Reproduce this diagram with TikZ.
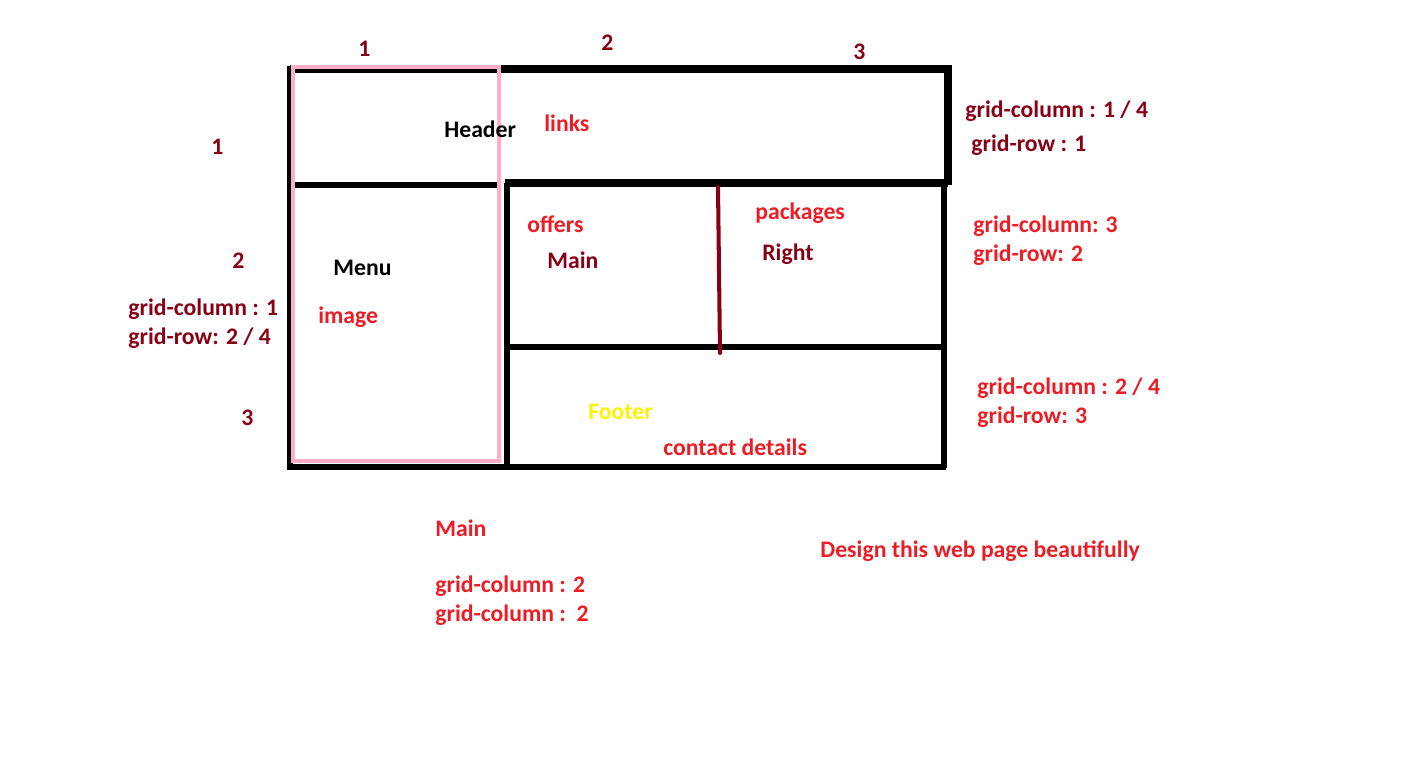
\documentclass[tikz,border=0pt]{standalone}
\usepackage{fontspec}
\setmainfont{Carlito}
\definecolor{darkRed}{RGB}{136, 0, 21}
\definecolor{paintRed}{RGB}{237, 28, 36}
\definecolor{paintPink}{RGB}{255, 174, 201}
\definecolor{paintYellow}{RGB}{255, 242, 0}
\usetikzlibrary{
    positioning
}
\begin{document}
\begin{tikzpicture}[
        x=0.02cm, y=-0.02cm,
        label/.style={anchor=west, inner sep=0pt, font=\fontsize{13.5}{15}\selectfont\bfseries},
        note/.style={label, text=paintRed},
        dnote/.style={label, text=darkRed},
        thickline/.style={line width=4.5pt},
        boxline/.style={line width=3pt},
    ]
    \useasboundingbox (0,0) rectangle (1412,765);

    % outer layout
    \begin{scope}
        \draw[boxline] (290,66) -- (290,470);
        \draw[thickline] (290,69) -- (948,69) -- (948,185);
        \draw[boxline] (290,185) -- (500,185);
        \draw[thickline] (505,183) -- (948,183);
        \draw[boxline] (507,183) -- (507,468);
        \draw[boxline] (944,183) -- (944,468);
        \draw[boxline] (507,347) -- (944,347);
        \draw[boxline] (288,467) -- (946,467);
        \draw[line width=2.3pt, paintPink] (293,67) rectangle (499,461);
        \draw[line width=2.3pt, darkRed, line cap=round] (718,187) -- (720,353);
    \end{scope}

    % column and row numbers
    \node[dnote] (col1) at (358,49) {1};
    \node[dnote] (col2) at (601,43) {2};
    \node[dnote] (col3) at (853,52) {3};
    \node[dnote] (row1) at (211,147) {1};
    \node[dnote] (row2) at (232,261) {2};
    \node[dnote] (row3) at (241,418) {3};

    % areas
    \node[label] (header) at (444,129) {Header};
    \node[note] (links) at (544,123) {links};
    \node[label] (menu) at (333,268) {Menu};
    \node[note] (image) at (318,317) {image};
    \node[note] (offers) at (527,224) {offers};
    \node[dnote] (main) at (547,260) {Main};
    \node[note] (packages) at (755,213) {packages};
    \node[dnote] (right) at (762,254) {Right};
    \node[label, text=paintYellow] (footer) at (588,412) {Footer};
    \node[note] (contact) at (663,447) {contact details};

    % placement notes
    \node[dnote] (headCol) at (965,111) {grid-column : 1 / 4};
    \node[dnote] (headRow) at (971,145) {grid-row : 1};
    \node[note] (rightCol) at (973,226) {grid-column: 3};
    \node[note] (rightRow) at (973,255) {grid-row: 2};
    \node[note] (footCol) at (977,388) {grid-column : 2 / 4};
    \node[note] (footRow) at (977,417) {grid-row: 3};
    \node[dnote] (menuCol) at (128,309) {grid-column : 1};
    \node[dnote] (menuRow) at (128,338) {grid-row: 2 / 4};
    \node[note] (mainTitle) at (435,528) {Main};
    \node[note] (mainCol) at (435,586) {grid-column : 2};
    \node[note] (mainCol2) at (435,615) {grid-column :~~2};
    \node[note] (design) at (820,551) {Design this web page beautifully};
\end{tikzpicture}
\end{document}
